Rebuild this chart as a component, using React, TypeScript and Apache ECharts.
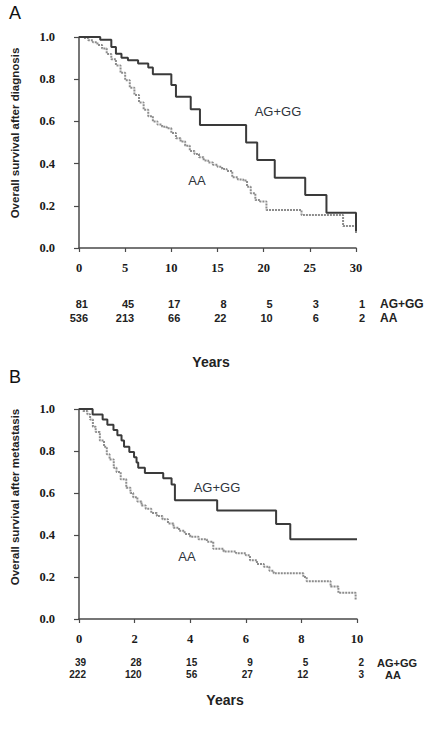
import { useEffect, useRef } from 'react';
import * as echarts from 'echarts';

// Number at risk
const timesA = [0, 5, 10, 15, 20, 25, 30];
const riskA_AGGG = [81, 45, 17, 8, 5, 3, 1];
const riskA_AA = [536, 213, 66, 22, 10, 6, 2];
const timesB = [0, 2, 4, 6, 8, 10];
const riskB_AGGG = [39, 28, 15, 9, 5, 2];
const riskB_AA = [222, 120, 56, 27, 12, 3];

// Kaplan-Meier curves: [time, survival after event]
const survA_AGGG: [number, number][] = [
  [0, 1.0], [2.3, 0.987], [3.5, 0.953], [4.0, 0.921], [4.6, 0.902], [5.3, 0.89],
  [6.4, 0.874], [7.5, 0.855], [8.0, 0.824], [10.0, 0.772], [10.5, 0.717],
  [12.1, 0.657], [13.1, 0.583], [18.1, 0.5], [19.3, 0.417], [21.2, 0.333],
  [24.5, 0.251], [26.8, 0.167], [30, 0.08],
];
const survA_AA: [number, number][] = [
  [0, 1.0], [0.5, 0.995], [1.0, 0.985], [1.5, 0.975], [2.0, 0.962], [2.5, 0.945],
  [3.0, 0.92], [3.5, 0.895], [4.0, 0.865], [4.5, 0.83], [5.0, 0.795], [5.5, 0.76],
  [6.0, 0.725], [6.5, 0.69], [7.0, 0.655], [7.5, 0.625], [8.0, 0.6], [8.5, 0.585],
  [9.0, 0.575], [9.5, 0.567], [10.0, 0.545], [10.5, 0.52], [11.0, 0.505],
  [11.5, 0.485], [12.0, 0.46], [12.5, 0.445], [13.0, 0.43], [13.5, 0.415],
  [14.0, 0.405], [14.5, 0.395], [15.0, 0.385], [15.5, 0.375], [16.0, 0.365],
  [16.6, 0.335], [17.2, 0.325], [17.8, 0.32], [18.2, 0.29], [18.6, 0.26],
  [19.1, 0.227], [19.6, 0.22], [20.3, 0.18], [24.1, 0.156], [28.6, 0.104], [30, 0.07],
];
const survB_AGGG: [number, number][] = [
  [0, 1.0], [0.49, 0.974], [0.85, 0.95], [1.02, 0.925], [1.24, 0.9], [1.38, 0.875],
  [1.53, 0.85], [1.62, 0.82], [1.81, 0.795], [1.98, 0.77], [2.07, 0.745],
  [2.13, 0.72], [2.37, 0.695], [3.03, 0.67], [3.33, 0.64], [3.45, 0.565],
  [4.97, 0.517], [7.09, 0.452], [7.6, 0.38], [10, 0.38],
];
const survB_AA: [number, number][] = [
  [0, 1.0], [0.15, 0.99], [0.3, 0.975], [0.4, 0.95], [0.5, 0.915], [0.6, 0.89],
  [0.75, 0.85], [0.9, 0.82], [1.0, 0.785], [1.1, 0.76], [1.25, 0.72], [1.35, 0.7],
  [1.5, 0.665], [1.7, 0.625], [1.85, 0.6], [1.95, 0.58], [2.1, 0.56], [2.25, 0.54],
  [2.4, 0.525], [2.6, 0.505], [2.8, 0.49], [3.0, 0.475], [3.2, 0.455], [3.4, 0.435],
  [3.6, 0.42], [3.8, 0.405], [4.0, 0.392], [4.3, 0.38], [4.6, 0.368], [4.83, 0.335],
  [5.2, 0.322], [5.65, 0.313], [6.0, 0.303], [6.15, 0.28], [6.4, 0.262],
  [6.65, 0.249], [6.85, 0.23], [7.0, 0.218], [8.07, 0.2], [8.19, 0.18],
  [9.05, 0.155], [9.33, 0.125], [9.95, 0.09],
];

const AXIS = '#4a4a4a';
const DARK = '#3a3a3a';
const GREY = '#8c8c8c';
const SANS = 'Liberation Sans';
const SERIF = 'Liberation Serif';

function xAxisCfg(gridIndex: number, max: number, interval: number, offset: number) {
  return {
    type: 'value', gridIndex, min: 0, max, interval, offset,
    axisLine: { show: true, lineStyle: { color: AXIS, width: 1.5 } },
    axisTick: { show: true, inside: false, length: 4, lineStyle: { color: AXIS, width: 1.2 } },
    axisLabel: { margin: 4, color: '#1a1a1a', fontFamily: SERIF, fontWeight: 'bold', fontSize: 12.5 },
    splitLine: { show: false },
  };
}
function yAxisCfg(gridIndex: number) {
  return {
    type: 'value', gridIndex, min: 0, max: 1, interval: 0.2, offset: 12,
    axisLine: { show: true, lineStyle: { color: AXIS, width: 1.5 } },
    axisTick: { show: true, inside: false, length: 5, lineStyle: { color: AXIS, width: 1.2 } },
    axisLabel: {
      margin: 12, color: '#1a1a1a', fontFamily: SERIF, fontWeight: 'bold', fontSize: 12.5,
      formatter: (v: number) => v.toFixed(1),
    },
    splitLine: { show: false },
  };
}
function km(data: [number, number][], idx: number, color: string, dashed: boolean) {
  return {
    type: 'line', step: 'end', xAxisIndex: idx, yAxisIndex: idx, data,
    showSymbol: false, symbol: 'none', clip: false, silent: true,
    lineStyle: { color, width: 2, type: dashed ? [2, 1] : 'solid' },
  };
}

function txt(text: string, x: number, y: number, o: any = {}) {
  return {
    type: 'text', x, y, rotation: o.rotation || 0,
    style: {
      text, fill: o.fill || '#222', fontFamily: o.fontFamily || SANS,
      fontSize: o.fontSize || 11, fontWeight: o.fontWeight || 'bold',
      align: o.align || 'center', verticalAlign: 'middle',
    },
  };
}

export default function App() {
  const ref = useRef<HTMLDivElement>(null);
  useEffect(() => {
    document.body.style.margin = '0';
    if (!ref.current) return;
    const chart = echarts.init(ref.current, null, { renderer: 'svg' });
    chart.setOption({
      animation: false,
      backgroundColor: '#ffffff',
      grid: [
        { left: 79, top: 37, width: 277, height: 211 },
        { left: 79, top: 409, width: 278, height: 210 },
      ],
      xAxis: [xAxisCfg(0, 30, 5, 9), xAxisCfg(1, 10, 2, 9)],
      yAxis: [yAxisCfg(0), yAxisCfg(1)],
      series: [
        km(survA_AA, 0, GREY, true),
        km(survA_AGGG, 0, DARK, false),
        km(survB_AA, 1, GREY, true),
        km(survB_AGGG, 1, DARK, false),
      ],
    });

    const g: any[] = [];
    // panel letters
    g.push(txt('A', 9, 13, { align: 'left', fontSize: 18, fontWeight: 'normal', fill: '#111' }));
    g.push(txt('B', 9, 377, { align: 'left', fontSize: 18, fontWeight: 'normal', fill: '#111' }));
    // y titles
    g.push(txt('Overall survival after diagnosis', 15, 133, { rotation: Math.PI / 2, fontSize: 11.5 }));
    g.push(txt('Overall survival after metastasis', 15, 497, { rotation: Math.PI / 2, fontSize: 11.5 }));
    // curve labels
    const lab = { fontSize: 13, fontWeight: 'normal', fill: '#2e333b' };
    g.push(txt('AG+GG', 278, 111, lab));
    g.push(txt('AA', 197, 180, lab));
    g.push(txt('AG+GG', 217, 487, lab));
    g.push(txt('AA', 187, 556, lab));
    // risk tables
    timesA.forEach((t, i) => {
      const x = chart.convertToPixel({ xAxisIndex: 0 }, t) as number;
      g.push(txt(String(riskA_AGGG[i]), x + 9, 304, { align: 'right', fontSize: 11 }));
      g.push(txt(String(riskA_AA[i]), x + 9, 318, { align: 'right', fontSize: 11 }));
    });
    timesB.forEach((t, i) => {
      const x = chart.convertToPixel({ xAxisIndex: 1 }, t) as number;
      g.push(txt(String(riskB_AGGG[i]), x + 7, 662.5, { align: 'right', fontSize: 10 }));
      g.push(txt(String(riskB_AA[i]), x + 7, 674.5, { align: 'right', fontSize: 10 }));
    });
    g.push(txt('AG+GG', 380, 304, { align: 'left', fontSize: 12 }));
    g.push(txt('AA', 380, 318, { align: 'left', fontSize: 12 }));
    g.push(txt('AG+GG', 377, 662.5, { align: 'left', fontSize: 11 }));
    g.push(txt('AA', 385, 674.5, { align: 'left', fontSize: 11 }));
    // x titles
    g.push(txt('Years', 211, 362, { fontSize: 14 }));
    g.push(txt('Years', 225, 700, { fontSize: 14 }));

    chart.setOption({ graphic: g });
    return () => chart.dispose();
  }, []);
  return <div ref={ref} style={{ width: 430, height: 738 }} />;
}
